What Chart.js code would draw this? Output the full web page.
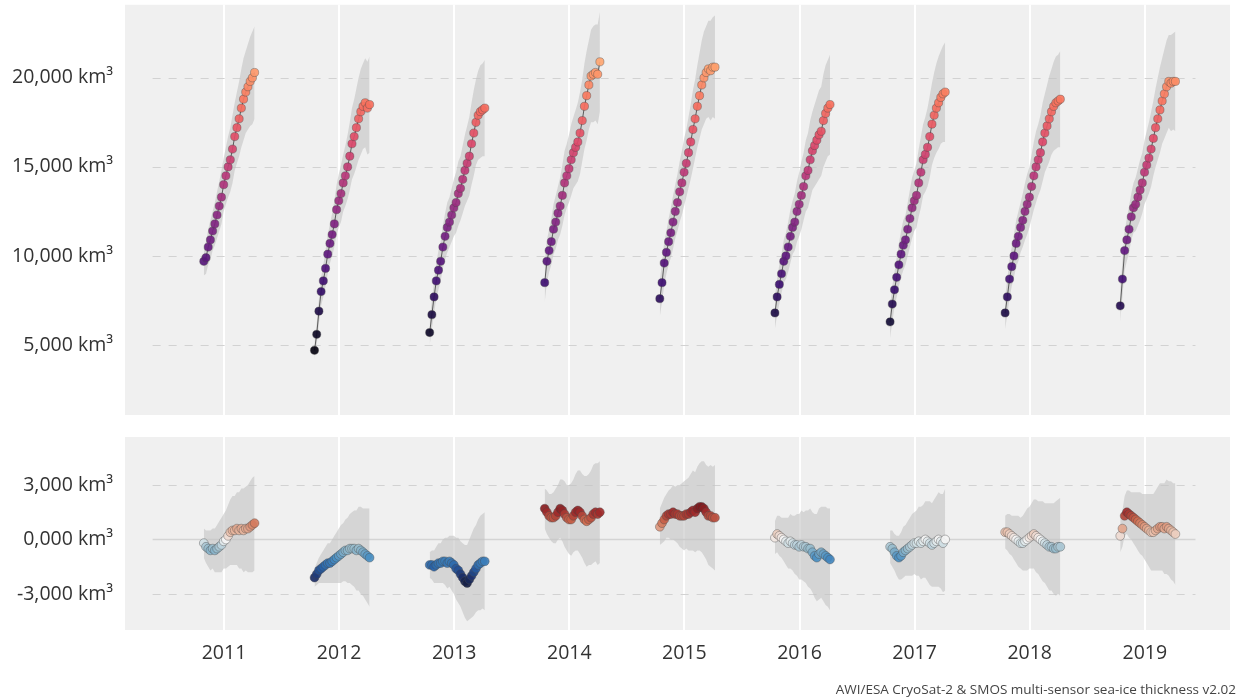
<!DOCTYPE html>
<html>
<head>
<meta charset="utf-8">
<script src="https://cdn.jsdelivr.net/npm/chart.js@4.4.0/dist/chart.umd.min.js"></script>
<style>
  html, body { margin: 0; padding: 0; background: #ffffff; }
  #wrap { position: relative; width: 1239px; height: 700px; }
  #top { position: absolute; left: 0; top: 0; }
  #bottom { position: absolute; left: 0; top: 420px; }
  #credit { position: absolute; right: 3px; bottom: 2px; font: 13.5px "Open Sans", sans-serif; color: #444; }
</style>
</head>
<body>
<div id="wrap">
  <canvas id="top" width="1239" height="420"></canvas>
  <canvas id="bottom" width="1239" height="280"></canvas>
  <div id="credit">AWI/ESA CryoSat-2 &amp; SMOS multi-sensor sea-ice thickness v2.02</div>
</div>
<script>
// winters, labelled by the year they end in
const years = [2011, 2012, 2013, 2014, 2015, 2016, 2017, 2018, 2019];
// first weekly product of each winter
const seasonStart = ['2010-10-29', '2011-10-15', '2012-10-15', '2013-10-15', '2014-10-15',
                     '2015-10-15', '2016-10-15', '2017-10-15', '2018-10-15'];

const volTicks = [5000, 10000, 15000, 20000];
const anomTicks = [-3000, 0, 3000];

// sea-ice volume, km3
const vol2011 = [9700, 9900, 10500, 10900, 11400, 11800, 12300, 12800, 13300, 14000, 14500, 15000, 15400, 16000, 16700, 17200, 17700, 18300, 18800, 19200, 19500, 19800, 20000, 20300];
const vol2012 = [4700, 5600, 6900, 8000, 8600, 9300, 10100, 10700, 11200, 11800, 12600, 13100, 13500, 14100, 14500, 15000, 15600, 16300, 16700, 17200, 17700, 18100, 18400, 18600, 18300, 18500];
const vol2013 = [5700, 6700, 7700, 8600, 9200, 9700, 10500, 11100, 11600, 11900, 12300, 12700, 13000, 13500, 13800, 14300, 14800, 15200, 15600, 16300, 16900, 17500, 17900, 18100, 18200, 18300];
const vol2014 = [8500, 9700, 10300, 10800, 11500, 11900, 12400, 12800, 13400, 14100, 14500, 14900, 15400, 15800, 16100, 16400, 16900, 17600, 18400, 19000, 19600, 20100, 20200, 20300, 20200, 20900];
const vol2015 = [7600, 8500, 9600, 10200, 10800, 11300, 11900, 12500, 13000, 13600, 14100, 14700, 15200, 15800, 16400, 17100, 17700, 18400, 19000, 19600, 20000, 20300, 20500, 20400, 20600, 20600];
const vol2016 = [6800, 7700, 8400, 9000, 9700, 10000, 10500, 11100, 11600, 11900, 12500, 12900, 13400, 13900, 14500, 14800, 15400, 15900, 16200, 16500, 16800, 17000, 17600, 18000, 18300, 18500];
const vol2017 = [6300, 7300, 8100, 8800, 9500, 10100, 10600, 10900, 11500, 12100, 12700, 13100, 13400, 14100, 14700, 15400, 15700, 16100, 16700, 17400, 17900, 18300, 18600, 18900, 19100, 19200];
const vol2018 = [6800, 7700, 8700, 9400, 10000, 10700, 11100, 11600, 12000, 12500, 12900, 13300, 13900, 14500, 15000, 15400, 15800, 16400, 16900, 17300, 17700, 18100, 18400, 18600, 18700, 18800];
const vol2019 = [7200, 8700, 10300, 10900, 11500, 12200, 12700, 12900, 13300, 13700, 14100, 14700, 15100, 15500, 16000, 16600, 17200, 17700, 18200, 18700, 19100, 19500, 19800, 19700, 19800, 19800];

// uncertainty, km3
const unc2011 = [800, 900, 1000, 1100, 1100, 1200, 1300, 1400, 1500, 1500, 1600, 1700, 1800, 1900, 1900, 2000, 2100, 2200, 2300, 2300, 2400, 2500, 2600, 2600];
const unc2012 = [500, 600, 700, 800, 900, 1000, 1100, 1100, 1200, 1300, 1400, 1500, 1600, 1600, 1700, 1800, 1900, 2000, 2100, 2200, 2300, 2400, 2400, 2500, 2600, 2700];
const unc2013 = [700, 800, 900, 1000, 1100, 1100, 1200, 1300, 1400, 1400, 1500, 1600, 1700, 1800, 1800, 1900, 2000, 2100, 2200, 2300, 2400, 2400, 2500, 2600, 2600, 2700];
const unc2014 = [1100, 1200, 1200, 1300, 1400, 1500, 1500, 1600, 1700, 1800, 1800, 1900, 2000, 2000, 2100, 2200, 2300, 2300, 2400, 2500, 2500, 2600, 2700, 2700, 2800, 2800];
const unc2015 = [1000, 1100, 1200, 1200, 1300, 1400, 1500, 1500, 1600, 1700, 1800, 1900, 1900, 2000, 2100, 2200, 2200, 2300, 2400, 2500, 2600, 2600, 2700, 2800, 2800, 2900];
const unc2016 = [900, 1000, 1100, 1100, 1200, 1300, 1400, 1500, 1500, 1600, 1700, 1800, 1900, 1900, 2000, 2100, 2200, 2200, 2300, 2400, 2500, 2500, 2600, 2700, 2700, 2800];
const unc2017 = [900, 1000, 1000, 1100, 1200, 1300, 1400, 1400, 1500, 1600, 1700, 1700, 1800, 1900, 2000, 2000, 2100, 2200, 2300, 2300, 2400, 2500, 2600, 2600, 2700, 2800];
const unc2018 = [900, 1000, 1100, 1100, 1200, 1300, 1400, 1400, 1500, 1600, 1700, 1700, 1800, 1900, 2000, 2000, 2100, 2200, 2200, 2300, 2400, 2400, 2500, 2600, 2600, 2700];
const unc2019 = [900, 1000, 1100, 1200, 1300, 1300, 1400, 1500, 1600, 1700, 1700, 1800, 1900, 2000, 2100, 2100, 2200, 2300, 2400, 2400, 2500, 2600, 2600, 2700, 2700, 2800];

// anomaly vs. the 2011-2019 mean, km3
const anom2011 = [-200, -400, -500, -600, -500, -600, -500, -400, -300, -100, 0, 200, 400, 500, 500, 600, 500, 600, 500, 600, 600, 700, 800, 900];
const anom2012 = [-2100, -1900, -1700, -1600, -1500, -1400, -1300, -1300, -1200, -1100, -1000, -900, -800, -700, -600, -600, -500, -500, -500, -600, -500, -600, -700, -800, -900, -1000];
const anom2013 = [-1400, -1400, -1500, -1400, -1300, -1300, -1200, -1200, -1300, -1200, -1300, -1400, -1600, -1700, -1900, -2100, -2300, -2400, -2200, -2000, -1800, -1600, -1400, -1300, -1200, -1200];
const anom2014 = [1700, 1500, 1300, 1200, 1200, 1300, 1500, 1700, 1600, 1400, 1200, 1100, 1100, 1300, 1500, 1600, 1500, 1300, 1100, 1000, 1100, 1200, 1400, 1500, 1400, 1500];
const anom2015 = [700, 900, 1100, 1300, 1400, 1400, 1500, 1400, 1400, 1300, 1300, 1300, 1400, 1400, 1500, 1600, 1500, 1700, 1800, 1800, 1700, 1500, 1300, 1300, 1200, 1200];
const anom2016 = [100, 300, 200, 100, 0, -100, -200, -100, -200, -300, -300, -400, -300, -400, -400, -500, -500, -700, -900, -1000, -800, -700, -800, -900, -1000, -1100];
const anom2017 = [-400, -500, -700, -900, -1000, -900, -700, -600, -500, -400, -300, -200, -200, -100, -200, -100, 0, -100, -200, -300, -200, -100, 0, -100, -200, 0];
const anom2018 = [400, 400, 300, 200, 100, 0, -100, -200, -200, -100, 0, 100, 200, 300, 200, 100, 0, -100, -200, -300, -400, -400, -500, -500, -400, -400];
const anom2019 = [200, 600, 1300, 1500, 1400, 1300, 1200, 1100, 1000, 900, 800, 700, 600, 500, 400, 400, 500, 600, 700, 700, 600, 700, 600, 500, 400, 300];

const volumes = [vol2011, vol2012, vol2013, vol2014, vol2015, vol2016, vol2017, vol2018, vol2019];
const uncertainty = [unc2011, unc2012, unc2013, unc2014, unc2015, unc2016, unc2017, unc2018, unc2019];
const anomalies = [anom2011, anom2012, anom2013, anom2014, anom2015, anom2016, anom2017, anom2018, anom2019];

const tickFont = { family: '"Open Sans", sans-serif', size: 19.5 };
const tickColor = '#333333';
const xMin = 2010.14, xMax = 2019.74;
const gridFrom = 2010.38, gridTo = 2019.44;

// date of week n of a winter, as decimal year
function decYear(start, n) {
    const d = new Date(start + 'T00:00:00Z');
    d.setUTCDate(d.getUTCDate() + 7 * n);
    const y = d.getUTCFullYear();
    const y0 = Date.UTC(y, 0, 1), y1 = Date.UTC(y + 1, 0, 1);
    return y + (d - y0) / (y1 - y0);
}

function hexRgb(h) {
    return [parseInt(h.slice(1, 3), 16), parseInt(h.slice(3, 5), 16), parseInt(h.slice(5, 7), 16)];
}
function rgba(c, a) {
    return 'rgba(' + c.map(Math.round).join(',') + ',' + a + ')';
}
function mix(stops, v, alpha) {
    if (v <= stops[0][0]) return rgba(hexRgb(stops[0][1]), alpha);
    for (let i = 1; i < stops.length; i++) {
        if (v <= stops[i][0]) {
            const t = (v - stops[i - 1][0]) / (stops[i][0] - stops[i - 1][0]);
            const a = hexRgb(stops[i - 1][1]), b = hexRgb(stops[i][1]);
            return rgba(a.map((c, k) => c + (b[k] - c) * t), alpha);
        }
    }
    return rgba(hexRgb(stops[stops.length - 1][1]), alpha);
}

// magma-like ramp for volume
const magma = ['#000004', '#140e36', '#3b0f70', '#641a80', '#8c2981', '#b73779',
               '#de4968', '#f7705c', '#fe9f6d', '#fecf92', '#fcfdbf'];
const volStops = magma.map((c, i) => [4200 + i * 2050, c]);
// blue-white-red ramp for anomaly
const anomStops = [[-2500, '#141c3c'], [-2000, '#1d3270'], [-1500, '#2862a8'], [-1000, '#4a8fc2'],
                   [-500, '#98bccc'], [0, '#f4f4f4'], [500, '#e6b49c'], [1000, '#cf6e50'],
                   [1500, '#9e2a2a'], [2000, '#6a0c14']];

const bandColor = 'rgba(195,195,195,0.6)';

function buildSets(values, colorStops, withLine) {
    const sets = [];
    years.forEach((yr, s) => {
        const vals = values[s], unc = uncertainty[s];
        const xs = vals.map((v, i) => decYear(seasonStart[s], i));
        sets.push({
            data: vals.map((v, i) => ({ x: xs[i], y: v })),
            order: 1,
            showLine: withLine,
            borderColor: 'rgba(60,60,60,0.8)',
            borderWidth: 1,
            pointRadius: withLine ? 4.1 : 4.4,
            pointBorderWidth: 0.7,
            pointBorderColor: 'rgba(70,70,70,0.55)',
            pointBackgroundColor: vals.map(v => mix(colorStops, v, 0.92)),
            fill: false
        });
        sets.push({
            data: vals.map((v, i) => ({ x: xs[i], y: v + unc[i] })),
            order: 2, borderWidth: 0, pointRadius: 0, backgroundColor: bandColor, fill: '+1'
        });
        sets.push({
            data: vals.map((v, i) => ({ x: xs[i], y: v - unc[i] })),
            order: 2, borderWidth: 0, pointRadius: 0, fill: false
        });
    });
    return sets;
}

const panelBg = {
    id: 'panelBg',
    beforeDraw(chart) {
        const { ctx, chartArea: a } = chart;
        ctx.save();
        ctx.fillStyle = '#f0f0f0';
        ctx.fillRect(a.left, a.top, a.right - a.left, a.bottom - a.top);
        ctx.restore();
    }
};

const hGrid = {
    id: 'hGrid',
    beforeDatasetsDraw(chart, args, opts) {
        const { ctx, scales: { x, y } } = chart;
        const x0 = x.getPixelForValue(gridFrom), x1 = x.getPixelForValue(gridTo);
        ctx.save();
        opts.values.forEach(v => {
            const py = Math.round(y.getPixelForValue(v)) + 0.5;
            ctx.beginPath();
            if (v === 0 && opts.zeroSolid) {
                ctx.setLineDash([]);
                ctx.strokeStyle = '#d4d4d4';
                ctx.lineWidth = 1.5;
            } else {
                ctx.setLineDash([8, 8]);
                ctx.strokeStyle = '#d2d2d2';
                ctx.lineWidth = 1;
            }
            ctx.moveTo(x0, py);
            ctx.lineTo(x1, py);
            ctx.stroke();
        });
        ctx.restore();
    }
};

function xScale(showLabels) {
    return {
        type: 'linear',
        min: xMin,
        max: xMax,
        afterBuildTicks: s => { s.ticks = years.map(v => ({ value: v })); },
        ticks: { display: showLabels, font: tickFont, color: tickColor, padding: 12, callback: v => String(v) },
        grid: { color: '#ffffff', lineWidth: 2, drawTicks: false },
        border: { display: false },
        afterFit: s => { s.height = showLabels ? 70 : 0; s.paddingLeft = 0; s.paddingRight = 0; }
    };
}

function yScale(min, max, ticks, fmt) {
    return {
        min: min,
        max: max,
        afterBuildTicks: s => { s.ticks = ticks.map(v => ({ value: v })); },
        ticks: { font: tickFont, color: tickColor, padding: 12, callback: fmt },
        grid: { display: false, drawTicks: false },
        border: { display: false },
        afterFit: s => { s.width = 125; s.paddingTop = 0; s.paddingBottom = 0; }
    };
}

const topChart = new Chart(document.getElementById('top'), {
    type: 'line',
    data: { datasets: buildSets(volumes, volStops, true) },
    options: {
        responsive: false,
        animation: false,
        layout: { padding: { top: 4, right: 9, bottom: 5, left: 0 } },
        plugins: {
            legend: { display: false },
            tooltip: { enabled: false },
            hGrid: { values: volTicks }
        },
        scales: {
            x: xScale(false),
            y: yScale(1070, 24100, volTicks, v => v.toLocaleString('en-US') + ' km³')
        }
    },
    plugins: [panelBg, hGrid]
});

const bottomChart = new Chart(document.getElementById('bottom'), {
    type: 'line',
    data: { datasets: buildSets(anomalies, anomStops, false) },
    options: {
        responsive: false,
        animation: false,
        layout: { padding: { top: 17, right: 9, bottom: 0, left: 0 } },
        plugins: {
            legend: { display: false },
            tooltip: { enabled: false },
            hGrid: { values: anomTicks, zeroSolid: true }
        },
        scales: {
            x: xScale(true),
            y: yScale(-4980, 5640, anomTicks, v => (v === 0 ? '0,000' : v.toLocaleString('en-US')) + ' km³')
        }
    },
    plugins: [panelBg, hGrid]
});
</script>
</body>
</html>
